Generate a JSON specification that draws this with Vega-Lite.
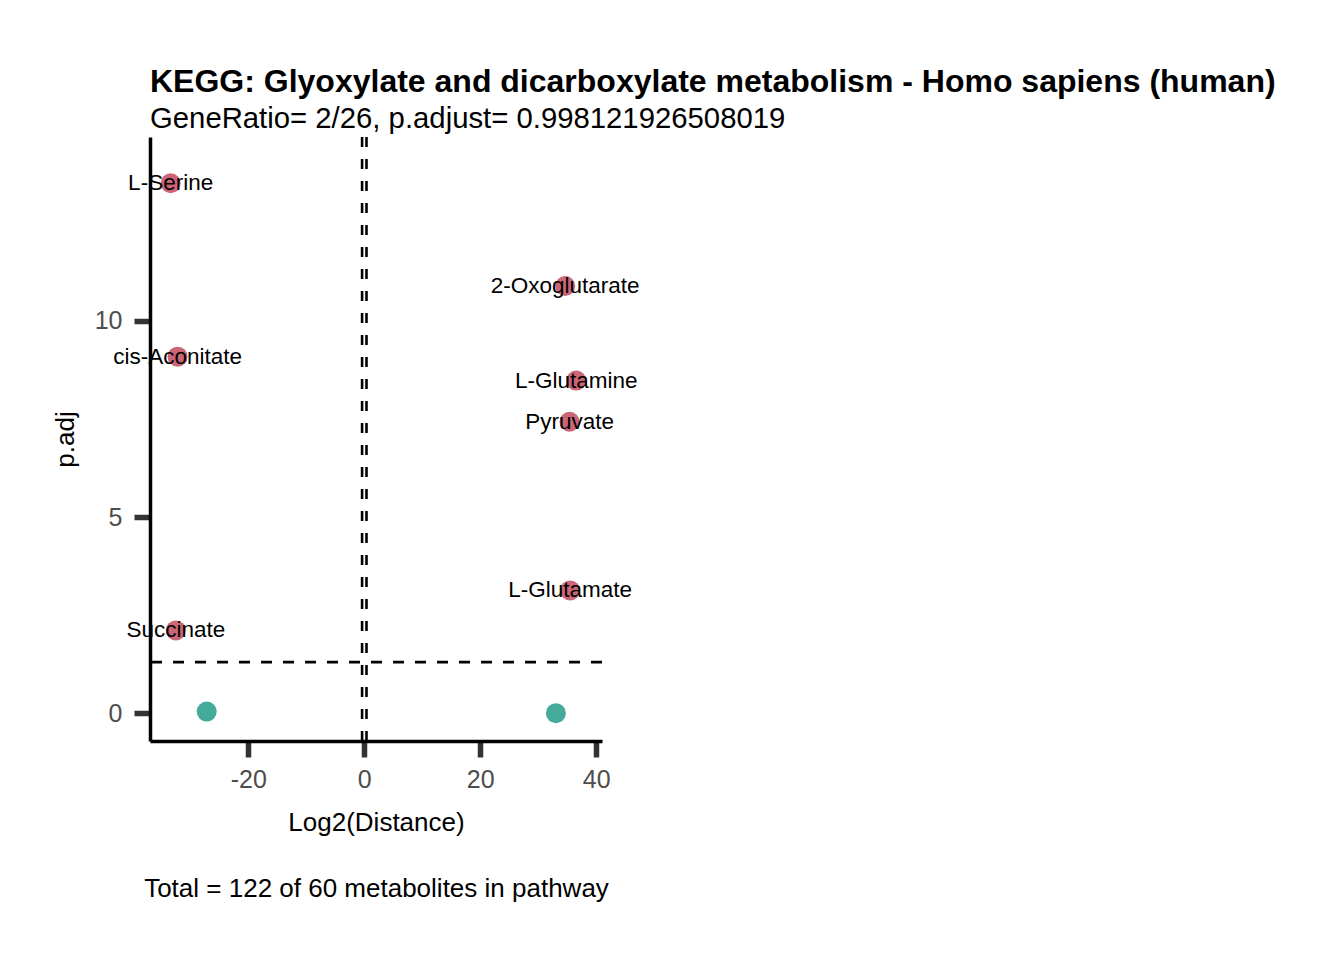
{
  "$schema": "https://vega.github.io/schema/vega-lite/v6.json",
  "autosize": {"type": "none"},
  "width": 452,
  "height": 604,
  "padding": {"left": 150, "top": 137, "right": 742, "bottom": 219},
  "background": "white",
  "title": {
    "text": "KEGG: Glyoxylate and dicarboxylate metabolism - Homo sapiens (human)",
    "subtitle": "GeneRatio= 2/26, p.adjust= 0.998121926508019",
    "anchor": "start",
    "frame": "group",
    "font": "Liberation Sans",
    "fontSize": 32,
    "fontWeight": "bold",
    "color": "black",
    "subtitleFont": "Liberation Sans",
    "subtitleFontSize": 29.3,
    "subtitleColor": "black",
    "subtitlePadding": 6,
    "offset": 0
  },
  "datasets": {
    "points": [
      {"name": "L-Serine", "dist": -33.4, "padj": 13.51, "sig": "yes"},
      {"name": "cis-Aconitate", "dist": -32.2, "padj": 9.09, "sig": "yes"},
      {"name": "Succinate", "dist": -32.5, "padj": 2.11, "sig": "yes"},
      {"name": "2-Oxoglutarate", "dist": 34.65, "padj": 10.89, "sig": "yes"},
      {"name": "L-Glutamine", "dist": 36.55, "padj": 8.48, "sig": "yes"},
      {"name": "Pyruvate", "dist": 35.4, "padj": 7.43, "sig": "yes"},
      {"name": "L-Glutamate", "dist": 35.5, "padj": 3.13, "sig": "yes"},
      {"name": "", "dist": -27.18, "padj": 0.04, "sig": "no"},
      {"name": "", "dist": 33.05, "padj": 0.0, "sig": "no"}
    ],
    "vlines": [{"xint": -0.38}, {"xint": 0.38}],
    "hlines": [{"yint": 1.301}]
  },
  "layer": [
    {
      "data": {"name": "vlines"},
      "mark": {"type": "rule", "color": "black", "strokeWidth": 2.6, "strokeDash": [10, 12]},
      "encoding": {
        "x": {"field": "xint", "type": "quantitative", "scale": {"domain": [-36.96, 41], "nice": false, "zero": false},
          "axis": {"title": ["Log2(Distance)", "Total = 122 of 60 metabolites in pathway"], "values": [-20, 0, 20, 40],
            "labelExpr": "datum.value < 0 ? '-' + abs(datum.value) : '' + datum.value"}}
      }
    },
    {
      "data": {"name": "hlines"},
      "mark": {"type": "rule", "color": "black", "strokeWidth": 2.6, "strokeDash": [11, 11]},
      "encoding": {
        "y": {"field": "yint", "type": "quantitative", "scale": {"domain": [-0.71, 14.69], "nice": false, "zero": false},
          "axis": {"title": "p.adj", "values": [0, 5, 10]}}
      }
    },
    {
      "data": {"name": "points"},
      "mark": {"type": "circle", "size": 400, "opacity": 1},
      "encoding": {
        "x": {"field": "dist", "type": "quantitative"},
        "y": {"field": "padj", "type": "quantitative"},
        "color": {
          "field": "sig",
          "type": "nominal",
          "scale": {"domain": ["yes", "no"], "range": ["#CC6677", "#44AA99"]},
          "legend": null
        }
      }
    },
    {
      "data": {"name": "points"},
      "mark": {"type": "text", "font": "Liberation Sans", "fontSize": 22.5, "color": "black", "align": "center", "baseline": "middle"},
      "encoding": {
        "x": {"field": "dist", "type": "quantitative"},
        "y": {"field": "padj", "type": "quantitative"},
        "text": {"field": "name"}
      }
    }
  ],
  "encoding": {},
  "resolve": {"scale": {"x": "shared", "y": "shared"}},
  "config": {
    "view": {"stroke": null},
    "axis": {
      "grid": false,
      "domainColor": "black",
      "domainWidth": 3.5,
      "tickColor": "#333333",
      "tickWidth": 5.5,
      "tickSize": 16,
      "labelFont": "Liberation Sans",
      "labelFontSize": 25,
      "labelColor": "#4D4D4D",
      "titleFont": "Liberation Sans",
      "titleFontSize": 26,
      "titleFontWeight": "normal",
      "titleColor": "black"
    },
    "axisX": {"labelPadding": 10, "titlePadding": 17, "titleLineHeight": 66},
    "axisY": {"labelPadding": 12, "titlePadding": 16}
  }
}
